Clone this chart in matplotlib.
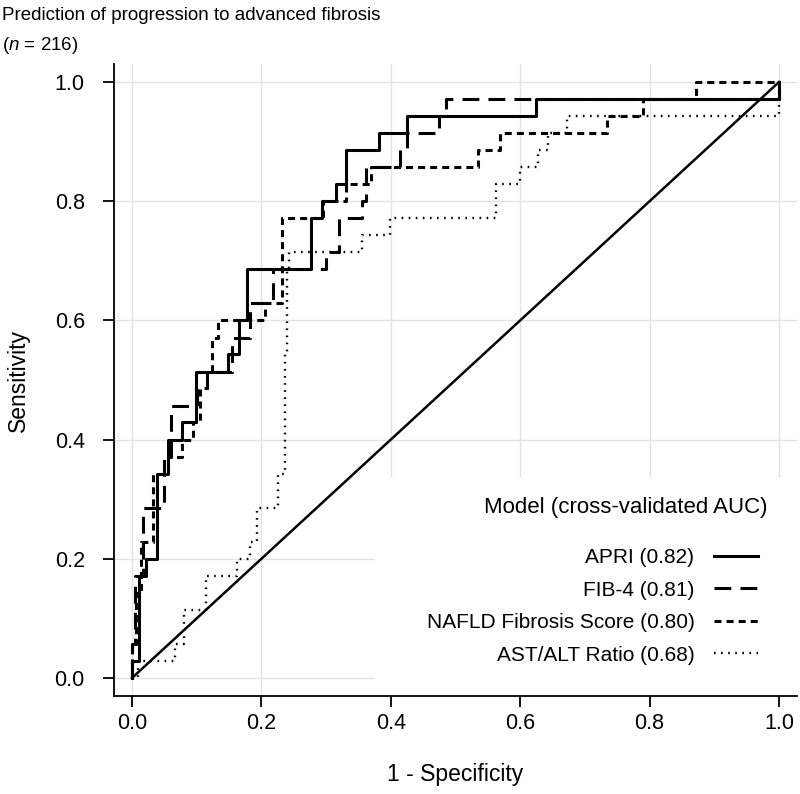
import matplotlib
matplotlib.use("Agg")
import matplotlib.pyplot as plt
import numpy as np
from matplotlib.patches import Rectangle

plt.rcParams['font.family'] = ['Liberation Sans', 'DejaVu Sans']
plt.rcParams['mathtext.fontset'] = 'custom'
plt.rcParams['mathtext.rm'] = 'Liberation Sans'
plt.rcParams['mathtext.it'] = 'Liberation Sans:italic'

# ROC curve corners (1 - specificity, sensitivity)
apri_fpr = [0, 0, 0.011, 0.011, 0.022, 0.022, 0.039, 0.039, 0.055, 0.055, 0.077, 0.077,
            0.099, 0.099, 0.149, 0.149, 0.166, 0.166, 0.177, 0.177, 0.276, 0.276, 0.293,
            0.293, 0.315, 0.315, 0.331, 0.331, 0.381, 0.381, 0.425, 0.425, 0.624, 0.624,
            1.0, 1.0]
apri_tpr = [0, 0.029, 0.029, 0.171, 0.171, 0.2, 0.2, 0.343, 0.343, 0.4, 0.4, 0.429,
            0.429, 0.514, 0.514, 0.543, 0.543, 0.6, 0.6, 0.686, 0.686, 0.771, 0.771,
            0.8, 0.8, 0.829, 0.829, 0.886, 0.886, 0.914, 0.914, 0.943, 0.943, 0.971,
            0.971, 1.0]

fib4_fpr = [0, 0, 0.005, 0.005, 0.017, 0.017, 0.05, 0.05, 0.06, 0.06, 0.1, 0.1,
            0.116, 0.116, 0.154, 0.154, 0.182, 0.182, 0.218, 0.218, 0.30, 0.30, 0.32,
            0.32, 0.355, 0.355, 0.362, 0.362, 0.414, 0.414, 0.425, 0.425, 0.475, 0.475,
            0.486, 0.486, 1.0, 1.0]
fib4_tpr = [0, 0.057, 0.057, 0.171, 0.171, 0.286, 0.286, 0.371, 0.371, 0.457, 0.457, 0.486,
            0.486, 0.514, 0.514, 0.571, 0.571, 0.629, 0.629, 0.686, 0.686, 0.714, 0.714,
            0.771, 0.771, 0.8, 0.8, 0.857, 0.857, 0.886, 0.886, 0.914, 0.914, 0.943,
            0.943, 0.971, 0.971, 1.0]

nfs_fpr = [0, 0, 0.006, 0.006, 0.014, 0.014, 0.033, 0.033, 0.055, 0.055, 0.077, 0.077,
           0.094, 0.094, 0.105, 0.105, 0.116, 0.116, 0.123, 0.123, 0.133, 0.133, 0.205,
           0.205, 0.232, 0.232, 0.295, 0.295, 0.33, 0.33, 0.37, 0.37, 0.535, 0.535,
           0.569, 0.569, 0.734, 0.734, 0.79, 0.79, 0.872, 0.872, 1.0]
nfs_tpr = [0, 0.057, 0.057, 0.143, 0.143, 0.229, 0.229, 0.343, 0.343, 0.371, 0.371, 0.4,
           0.4, 0.429, 0.429, 0.486, 0.486, 0.514, 0.514, 0.571, 0.571, 0.6, 0.6,
           0.629, 0.629, 0.771, 0.771, 0.8, 0.8, 0.829, 0.829, 0.857, 0.857, 0.886,
           0.886, 0.914, 0.914, 0.943, 0.943, 0.971, 0.971, 1.0, 1.0]

astalt_fpr = [0, 0.01, 0.01, 0.066, 0.066, 0.08, 0.08, 0.115, 0.115, 0.162, 0.162, 0.182,
              0.182, 0.193, 0.193, 0.226, 0.226, 0.236, 0.236, 0.24, 0.24, 0.243, 0.243,
              0.355, 0.355, 0.399, 0.399, 0.562, 0.562, 0.6, 0.6, 0.627, 0.627, 0.643,
              0.643, 0.672, 0.672, 1.0, 1.0]
astalt_tpr = [0, 0, 0.029, 0.029, 0.057, 0.057, 0.114, 0.114, 0.171, 0.171, 0.2, 0.2,
              0.229, 0.229, 0.286, 0.286, 0.343, 0.343, 0.543, 0.543, 0.686, 0.686, 0.714,
              0.714, 0.743, 0.743, 0.771, 0.771, 0.829, 0.829, 0.857, 0.857, 0.886, 0.886,
              0.914, 0.914, 0.943, 0.943, 1.0]

labels = ["APRI (0.82)", "FIB-4 (0.81)", "NAFLD Fibrosis Score (0.80)", "AST/ALT Ratio (0.68)"]
ticks = [0.0, 0.2, 0.4, 0.6, 0.8, 1.0]

fig = plt.figure(figsize=(8, 7.94), dpi=100)
ax = fig.add_axes([114 / 800, 98 / 794, 683 / 800, 632 / 794])

ax.set_xlim(-0.0278, 1.0278)
ax.set_ylim(-0.0302, 1.0302)
ax.set_xticks(ticks)
ax.set_yticks(ticks)
ax.set_xticklabels([f"{t:.1f}" for t in ticks])
ax.set_yticklabels([f"{t:.1f}" for t in ticks])
ax.grid(True, color="#e3e3e3", linewidth=1.0)
ax.set_axisbelow(True)
for s in ["top", "right"]:
    ax.spines[s].set_visible(False)
for s in ["left", "bottom"]:
    ax.spines[s].set_linewidth(1.3)
ax.tick_params(direction="out", length=8, width=1.3, labelsize=15.5, colors="black")
ax.tick_params(axis="x", pad=4)
ax.tick_params(axis="y", pad=13)

# white box behind the legend hides the grid there
ax.add_patch(Rectangle((0.3756, -0.0302), 0.66, 0.3672, facecolor="white",
                       edgecolor="none", zorder=1))

lw = 2.2
ax.plot([0, 1], [0, 1], color="black", lw=1.8, zorder=2)
h1, = ax.plot(apri_fpr, apri_tpr, color="black", lw=lw, zorder=3)
h2, = ax.plot(fib4_fpr, fib4_tpr, color="black", lw=lw, zorder=3,
              linestyle=(0, (5.5, 3.0)))
h3, = ax.plot(nfs_fpr, nfs_tpr, color="black", lw=lw, zorder=3,
              linestyle=(0, (2.3, 1.65)))
h4, = ax.plot(astalt_fpr, astalt_tpr, color="black", lw=1.7, zorder=3,
              linestyle=(0, (0.7, 2.3)))

fig.text(455 / 800, 1 - 775 / 794, "1 - Specificity", fontsize=16.5, ha="center", va="center")
fig.text(18 / 800, 1 - 380 / 794, "Sensitivity", fontsize=16.5, ha="center", va="center",
         rotation=90)

fig.text(768 / 800, 1 - 508 / 794, "Model (cross-validated AUC)", fontsize=16,
         ha="right", va="center")
ax.legend([h1, h2, h3, h4], labels, loc="upper right", frameon=False,
          markerfirst=False, fontsize=15, handlelength=2.1, handletextpad=0.95,
          labelspacing=0.65, borderpad=0, borderaxespad=0,
          bbox_to_anchor=(758 / 800, 1 - 548 / 794), bbox_transform=fig.transFigure)

fig.text(2 / 800, 1 - 15 / 794, "Prediction of progression to advanced fibrosis",
         fontsize=13.5, ha="left", va="center")
fig.text(2 / 800, 1 - 46 / 794, r"($\mathit{n}$ = 216)", fontsize=13.5,
         ha="left", va="center")

fig.savefig("out.png", dpi=100)
